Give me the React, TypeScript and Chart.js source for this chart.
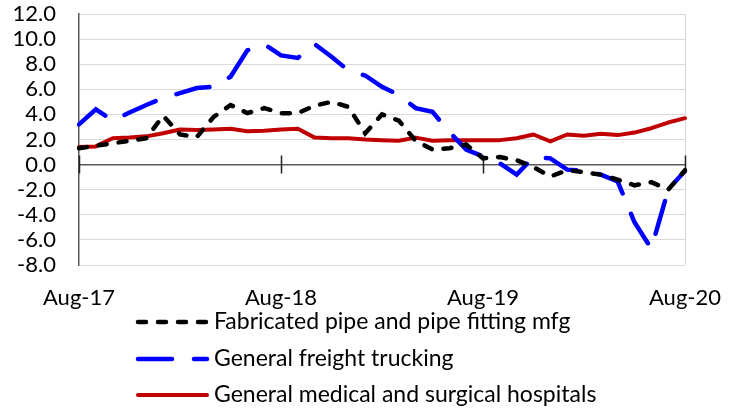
import React, { useEffect, useRef } from 'react';
import { Chart, registerables } from 'chart.js';

Chart.register(...registerables);

const months = [
  'Aug-17', 'Sep-17', 'Oct-17', 'Nov-17', 'Dec-17', 'Jan-18', 'Feb-18', 'Mar-18', 'Apr-18', 'May-18', 'Jun-18', 'Jul-18',
  'Aug-18', 'Sep-18', 'Oct-18', 'Nov-18', 'Dec-18', 'Jan-19', 'Feb-19', 'Mar-19', 'Apr-19', 'May-19', 'Jun-19', 'Jul-19',
  'Aug-19', 'Sep-19', 'Oct-19', 'Nov-19', 'Dec-19', 'Jan-20', 'Feb-20', 'Mar-20', 'Apr-20', 'May-20', 'Jun-20', 'Jul-20',
  'Aug-20',
];

const shownLabels = ['Aug-17', 'Aug-18', 'Aug-19', 'Aug-20'];

const fabricatedPipe = [
  1.3, 1.5, 1.7, 1.9, 2.1, 3.9, 2.4, 2.2, 3.8, 4.75, 4.1, 4.5,
  4.1, 4.1, 4.7, 5.0, 4.6, 2.5, 4.0, 3.5, 1.9, 1.2, 1.3, 1.6,
  0.5, 0.6, 0.35, -0.2, -0.95, -0.45, -0.6, -0.8, -1.2, -1.65, -1.4, -2.0,
  -0.45,
];

const freightTrucking = [
  3.2, 4.4, 3.5, 4.15, 4.75, 5.3, 5.7, 6.1, 6.2, 7.0, 9.1, 9.6,
  8.7, 8.5, 9.6, 8.6, 7.5, 7.1, 6.2, 5.55, 4.5, 4.2, 2.6, 1.2,
  0.65, 0.1, -0.8, 0.6, 0.5, -0.4, -0.5, -0.8, -1.35, -4.6, -6.7, -2.0,
  -0.5,
];

const hospitals = [
  1.4, 1.45, 2.1, 2.15, 2.25, 2.5, 2.8, 2.75, 2.8, 2.85, 2.65, 2.7,
  2.8, 2.85, 2.15, 2.1, 2.1, 2.0, 1.95, 1.9, 2.15, 1.9, 1.95, 1.95,
  1.95, 1.95, 2.1, 2.4, 1.85, 2.4, 2.3, 2.45, 2.35, 2.55, 2.9, 3.35,
  3.7,
];

const seriesNames = [
  'Fabricated pipe and pipe fitting mfg',
  'General freight trucking',
  'General medical and surgical hospitals',
];

const yMin = -8;
const yMax = 12;
const yStep = 2;

const FONT = 'Lato';

const decorPlugin = {
  id: 'decor',
  beforeDatasetsDraw(chart: any) {
    const { ctx, chartArea, scales } = chart;
    const x = scales.x;
    const y = scales.y;
    ctx.save();
    ctx.strokeStyle = '#d9d9d9';
    ctx.lineWidth = 1;
    ctx.beginPath();
    ctx.moveTo(Math.round(chartArea.right) + 0.5, chartArea.top);
    ctx.lineTo(Math.round(chartArea.right) + 0.5, chartArea.bottom);
    ctx.stroke();

    const y0 = y.getPixelForValue(0);
    ctx.strokeStyle = '#222';
    ctx.lineWidth = 1.5;
    ctx.beginPath();
    months.forEach((m, i) => {
      if (shownLabels.includes(m)) {
        const px = Math.round(x.getPixelForValue(i)) + 0.5;
        ctx.moveTo(px, y0 - 9);
        ctx.lineTo(px, y0 + 9);
      }
    });
    ctx.stroke();
    ctx.restore();
  },
  afterDraw(chart: any) {
    const { ctx } = chart;
    const rowStart = 322;
    const rowGap = 36.5;
    ctx.save();
    chart.data.datasets.forEach((ds: any, i: number) => {
      const ry = Math.round(rowStart + i * rowGap);
      ctx.beginPath();
      ctx.setLineDash(ds.borderDash || []);
      ctx.lineCap = 'round';
      ctx.strokeStyle = ds.borderColor;
      ctx.lineWidth = ds.borderWidth;
      ctx.moveTo(138, ry);
      ctx.lineTo(207, ry);
      ctx.stroke();
      ctx.setLineDash([]);
      ctx.font = `23px ${FONT}`;
      ctx.fillStyle = '#000';
      ctx.textBaseline = 'middle';
      ctx.textAlign = 'left';
      ctx.fillText(ds.label, 214, ry);
    });
    ctx.restore();
  },
};

export default function App() {
  const canvasRef = useRef<HTMLCanvasElement | null>(null);

  useEffect(() => {
    document.body.style.margin = '0';
    let chart: Chart | null = null;
    let cancelled = false;
    const build = () => {
      if (cancelled || !canvasRef.current) return;
      chart = new Chart(canvasRef.current, {
        type: 'line',
        data: {
          labels: months,
          datasets: [
            {
              label: seriesNames[0],
              data: fabricatedPipe,
              borderColor: '#000000',
              borderWidth: 4.5,
              borderDash: [8, 12],
              borderCapStyle: 'round',
              pointRadius: 0,
              tension: 0,
              fill: false,
            },
            {
              label: seriesNames[1],
              data: freightTrucking,
              borderColor: '#0000ff',
              borderWidth: 4.5,
              borderDash: [34, 22],
              borderCapStyle: 'round',
              pointRadius: 0,
              tension: 0,
              fill: false,
            },
            {
              label: seriesNames[2],
              data: hospitals,
              borderColor: '#c00000',
              borderWidth: 4,
              borderCapStyle: 'round',
              borderJoinStyle: 'round',
              pointRadius: 0,
              tension: 0,
              fill: false,
            },
          ],
        },
        options: {
          animation: false,
          responsive: true,
          maintainAspectRatio: false,
          layout: { padding: { top: 14, right: 47, bottom: 0, left: 0 } },
          plugins: {
            legend: { display: false },
            tooltip: { enabled: false },
          },
          scales: {
            x: {
              type: 'category',
              offset: false,
              grid: {
                display: true,
                color: 'rgba(0,0,0,0)',
                drawOnChartArea: false,
                drawTicks: true,
                tickLength: 20,
                tickColor: 'rgba(0,0,0,0)',
              },
              border: { display: false },
              afterFit: (s: any) => {
                s.height = 145;
              },
              ticks: {
                autoSkip: false,
                maxRotation: 0,
                minRotation: 0,
                padding: 0,
                color: '#000',
                font: { family: FONT, size: 22 },
                callback: (_v: any, idx: number) =>
                  shownLabels.includes(months[idx]) ? months[idx] : '',
              },
            },
            y: {
              min: yMin,
              max: yMax,
              afterFit: (s: any) => {
                s.width = 79;
              },
              grid: {
                drawTicks: true,
                tickLength: 23,
                tickColor: 'rgba(0,0,0,0)',
                color: (c: any) => (c.tick && c.tick.value === 0 ? '#595959' : '#d9d9d9'),
                lineWidth: (c: any) => (c.tick && c.tick.value === 0 ? 1.5 : 1),
              },
              border: { display: true, color: '#595959', width: 1.5 },
              ticks: {
                stepSize: yStep,
                autoSkip: false,
                padding: 0,
                color: '#000',
                font: { family: FONT, size: 22 },
                callback: (v: any) => Number(v).toFixed(1),
              },
            },
          },
        },
        plugins: [decorPlugin],
      } as any);
    };
    const fontsApi: any = (document as any).fonts;
    if (fontsApi && fontsApi.load) {
      fontsApi.load(`22px ${FONT}`).then(build, build);
    } else {
      build();
    }
    return () => {
      cancelled = true;
      if (chart) chart.destroy();
    };
  }, []);

  return (
    <div style={{ position: 'relative', width: 732, height: 410 }}>
      <canvas ref={canvasRef} />
    </div>
  );
}
